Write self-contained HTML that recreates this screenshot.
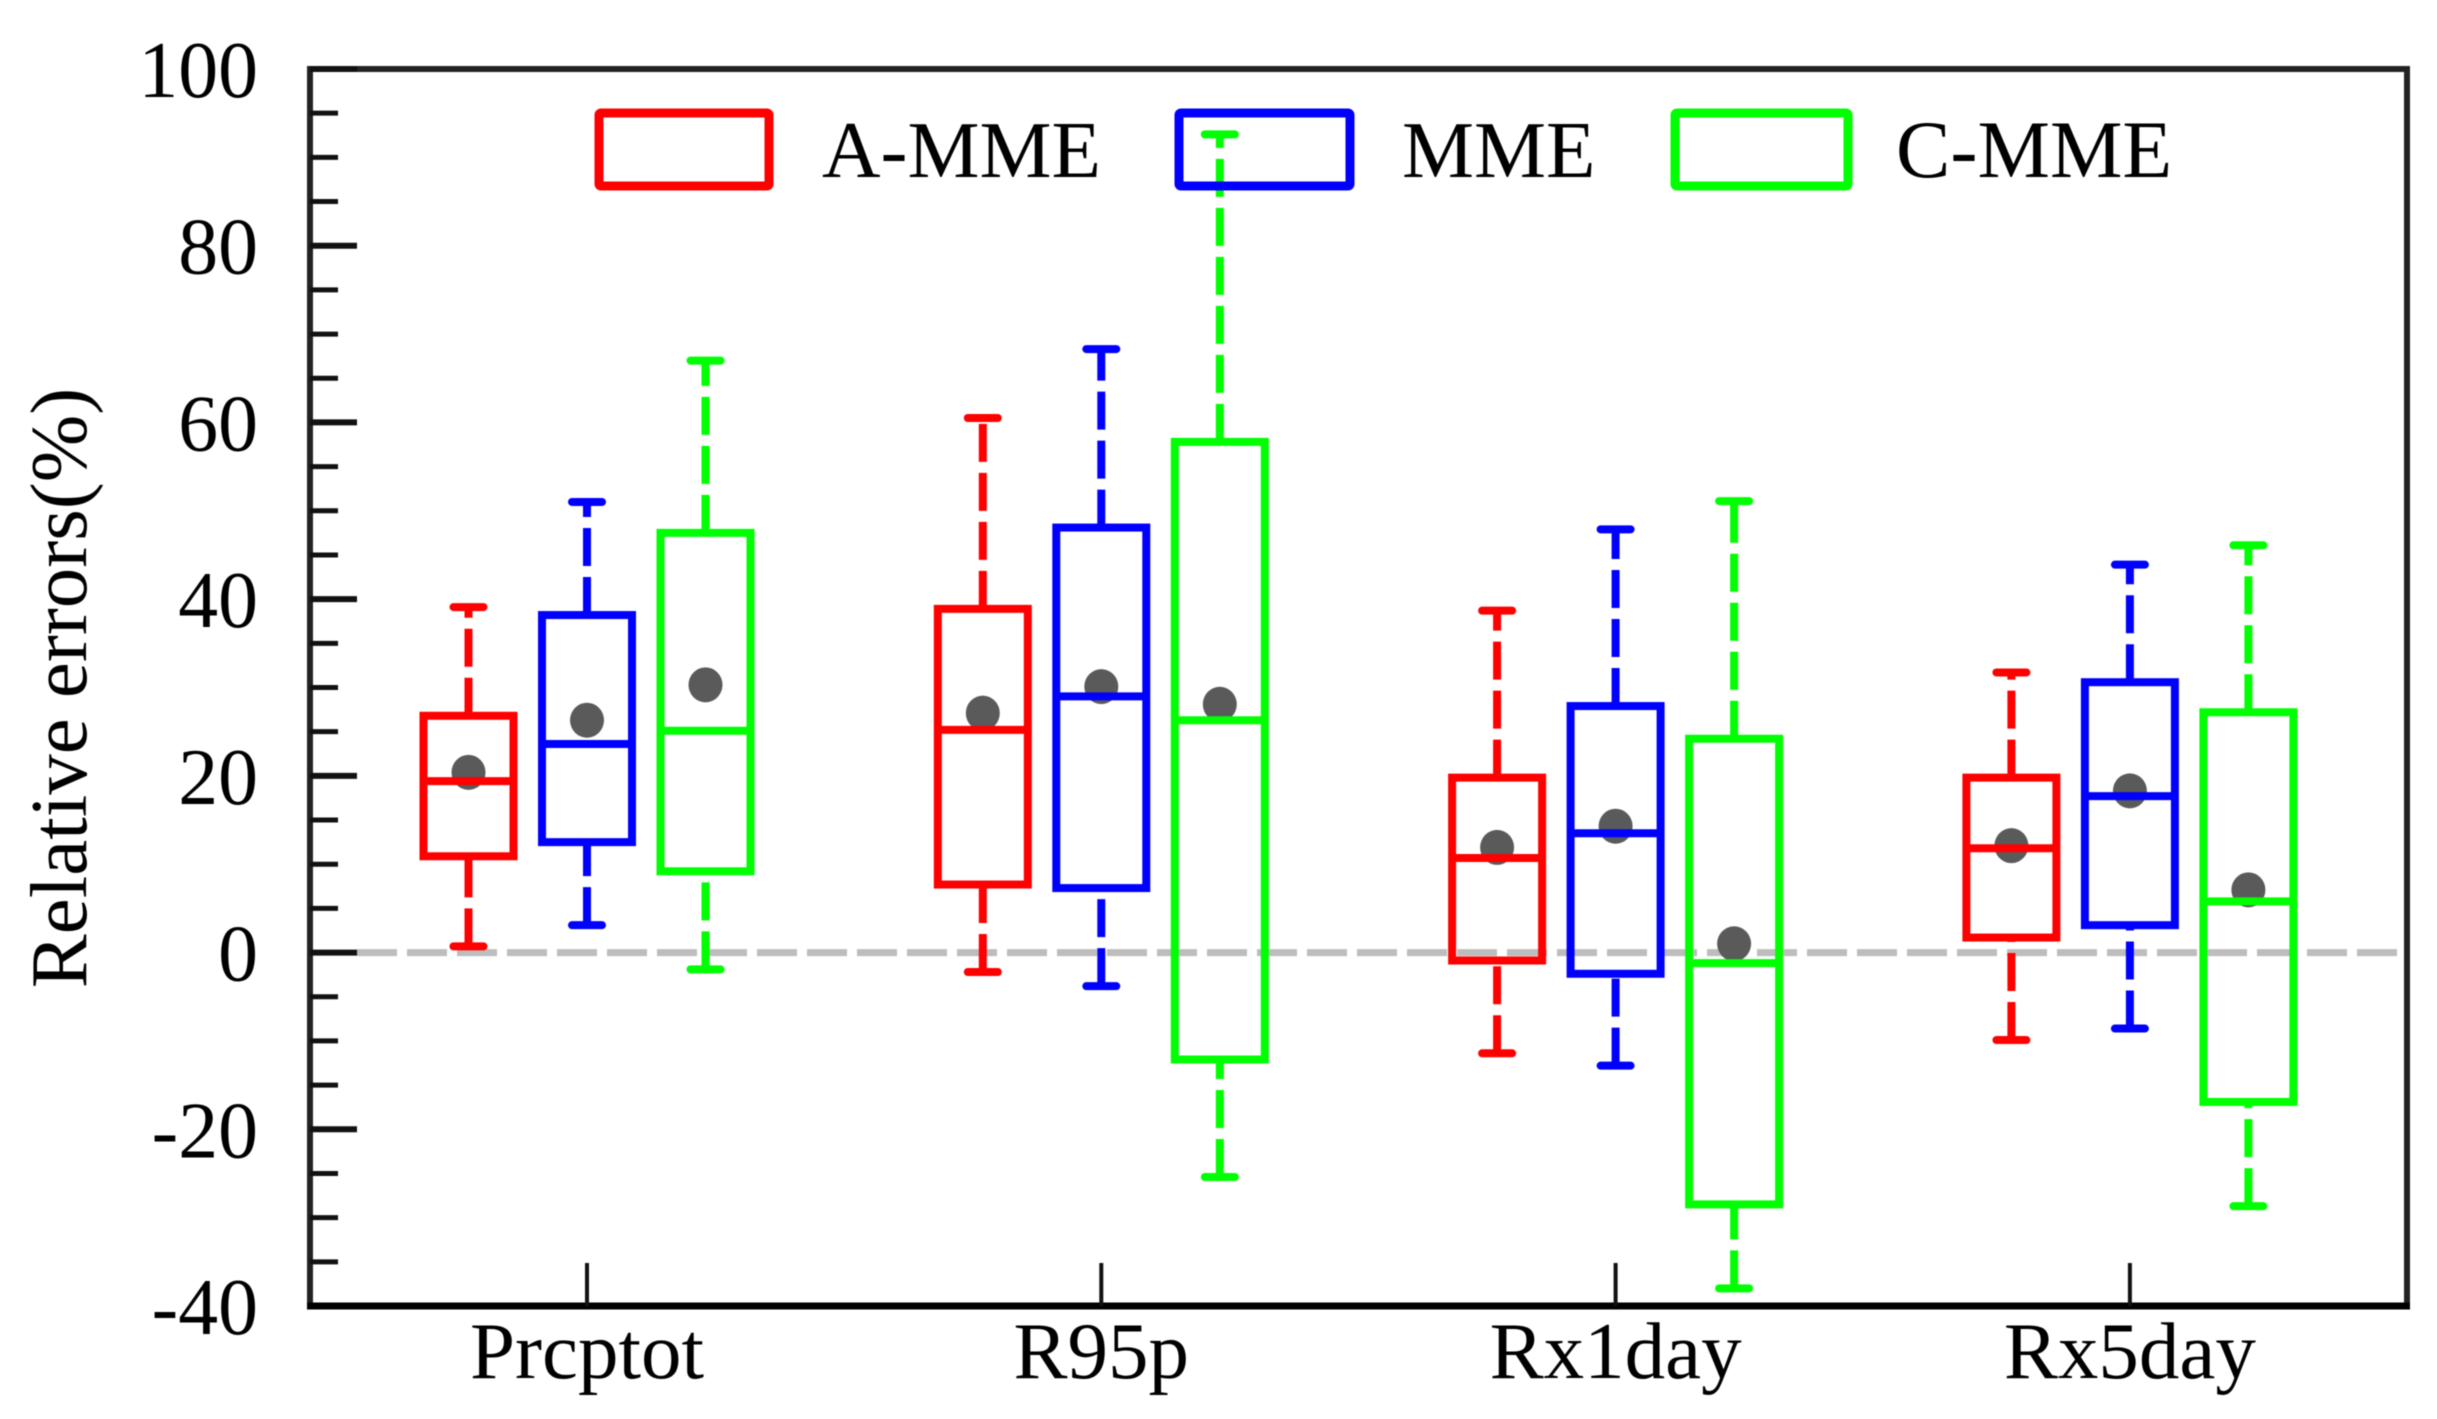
<!DOCTYPE html>
<html>
<head>
<meta charset="utf-8">
<title>Relative errors box plot</title>
<style>
html,body{margin:0;padding:0;background:#fff;}
svg{display:block;filter:blur(0.6px);}
text{font-family:"Liberation Serif",serif;fill:#000;}
</style>
</head>
<body>
<svg id="chart" xmlns="http://www.w3.org/2000/svg" width="2437" height="1419" viewBox="0 0 2437 1419">
  <rect x="0" y="0" width="2437" height="1419" fill="#fff"/>
  <g id="grid-layer"></g>
  <g id="mean-layer"></g>
  <g id="box-layer"></g>
  <g id="axis-layer"></g>
  <text transform="translate(86,688) rotate(-90)" text-anchor="middle" font-size="81">Relative errors(%)</text>
  <g>
    <g>
      <rect x="599" y="113" width="170" height="73" rx="2" fill="none" stroke="#ff0000" stroke-width="9" stroke-linejoin="round"/>
      <text x="822" y="177" font-size="81">A-MME</text>
    </g>
    <g>
      <rect x="1179" y="113" width="171" height="73" rx="2" fill="none" stroke="#0000ff" stroke-width="9" stroke-linejoin="round"/>
      <text x="1402" y="177" font-size="81">MME</text>
    </g>
    <g>
      <rect x="1675" y="113" width="173" height="73" rx="2" fill="none" stroke="#00ff00" stroke-width="9" stroke-linejoin="round"/>
      <text x="1896" y="177" font-size="81.5">C-MME</text>
    </g>
  </g>
</svg>
<script>
var categories = ['Prcptot', 'R95p', 'Rx1day', 'Rx5day'];
var seriesNames = ['A-MME', 'MME', 'C-MME'];
var seriesColors = ['#ff0000', '#0000ff', '#00ff00'];
var yTickLabels = [100, 80, 60, 40, 20, 0, -20, -40];

var aMmeWhiskerHigh = [39.1, 60.5, 38.7, 31.7];
var aMmeQ3 = [26.8, 38.9, 19.8, 19.8];
var aMmeMedian = [19.4, 25.2, 10.7, 11.8];
var aMmeQ1 = [10.9, 7.7, -0.9, 1.7];
var aMmeWhiskerLow = [0.7, -2.2, -11.4, -9.9];
var aMmeMean = [20.4, 27.1, 11.9, 12.1];

var mmeWhiskerHigh = [51.0, 68.3, 47.9, 43.9];
var mmeQ3 = [38.2, 48.1, 27.9, 30.6];
var mmeMedian = [23.6, 29.0, 13.5, 17.7];
var mmeQ1 = [12.5, 7.3, -2.4, 3.1];
var mmeWhiskerLow = [3.1, -3.8, -12.8, -8.6];
var mmeMean = [26.3, 30.1, 14.3, 18.3];

var cMmeWhiskerHigh = [67.0, 92.6, 51.1, 46.1];
var cMmeQ3 = [47.5, 57.8, 24.2, 27.2];
var cMmeMedian = [25.1, 26.3, -1.2, 5.8];
var cMmeQ1 = [9.2, -12.1, -28.5, -16.9];
var cMmeWhiskerLow = [-1.9, -25.4, -38.0, -28.7];
var cMmeMean = [30.3, 28.1, 1.0, 7.1];

var whiskerHighs = [aMmeWhiskerHigh, mmeWhiskerHigh, cMmeWhiskerHigh];
var q3s = [aMmeQ3, mmeQ3, cMmeQ3];
var medians = [aMmeMedian, mmeMedian, cMmeMedian];
var q1s = [aMmeQ1, mmeQ1, cMmeQ1];
var whiskerLows = [aMmeWhiskerLow, mmeWhiskerLow, cMmeWhiskerLow];
var means = [aMmeMean, mmeMean, cMmeMean];

var NS = 'http://www.w3.org/2000/svg';
var plotLeft = 310, plotRight = 2407, plotTop = 69, plotBottom = 1306;
var yMin = -40, yMax = 100;

function yScale(v) {
  return plotBottom - (v - yMin) / (yMax - yMin) * (plotBottom - plotTop);
}
function xScale(i) {
  return 587 + i * 514.3;
}
function seriesOffset(s) {
  return (s - 1) * 118.5;
}
function slug(t) {
  return String(t).toLowerCase().replace(/[^a-z0-9]+/g, '-');
}
function shape(parent, tag, props) {
  var el = document.createElementNS(NS, tag);
  for (var k in props) {
    el.setAttribute(k, props[k]);
  }
  parent.appendChild(el);
  return el;
}

var gridLayer = document.getElementById('grid-layer');
var meanLayer = document.getElementById('mean-layer');
var boxLayer = document.getElementById('box-layer');
var axisLayer = document.getElementById('axis-layer');

var zeroLine = shape(gridLayer, 'line', {x1: 357, x2: 2400, y1: yScale(0), y2: yScale(0), stroke: '#bdbdbd', 'stroke-width': 7, 'stroke-dasharray': '40 10'});



categories.forEach(function (cat, c) {
  seriesNames.forEach(function (name, s) {
    var cx = xScale(c) + seriesOffset(s);
    var color = seriesColors[s];
    var halfBox = 45, halfCap = 15, sw = 8;
    var yHigh = yScale(whiskerHighs[s][c]);
    var yQ3 = yScale(q3s[s][c]);
    var yMed = yScale(medians[s][c]);
    var yQ1 = yScale(q1s[s][c]);
    var yLow = yScale(whiskerLows[s][c]);
    var yMean = yScale(means[s][c]);

    var dot = shape(meanLayer, 'ellipse', {cx: cx, cy: yMean, rx: 17, ry: 17.5, fill: '#5a5a5a'});
    
    

    var g = shape(boxLayer, 'g', {});
    
    

    var upper = shape(g, 'line', {x1: cx, x2: cx, y1: yQ3, y2: yHigh, stroke: color, 'stroke-width': sw, 'stroke-dasharray': '38 11'});
    
    

    var lower = shape(g, 'line', {x1: cx, x2: cx, y1: yLow, y2: yQ1, stroke: color, 'stroke-width': sw, 'stroke-dasharray': '38 11'});
    
    

    var capHigh = shape(g, 'line', {x1: cx - halfCap, x2: cx + halfCap, y1: yHigh, y2: yHigh, stroke: color, 'stroke-width': sw, 'stroke-linecap': 'round'});
    
    

    var capLow = shape(g, 'line', {x1: cx - halfCap, x2: cx + halfCap, y1: yLow, y2: yLow, stroke: color, 'stroke-width': sw, 'stroke-linecap': 'round'});
    
    

    var box = shape(g, 'rect', {x: cx - halfBox, y: yQ3, width: halfBox * 2, height: yQ1 - yQ3, fill: 'none', stroke: color, 'stroke-width': sw});
    
    

    var med = shape(g, 'line', {x1: cx - halfBox, x2: cx + halfBox, y1: yMed, y2: yMed, stroke: color, 'stroke-width': sw});
    
    
  });
});

var frame = shape(axisLayer, 'rect', {x: plotLeft, y: plotTop, width: plotRight - plotLeft, height: plotBottom - plotTop, fill: 'none', stroke: '#222', 'stroke-width': 6});



var bottomAxis = shape(axisLayer, 'line', {x1: plotLeft - 3, x2: plotRight + 3, y1: plotBottom, y2: plotBottom, stroke: '#000', 'stroke-width': 7});



for (var v = yMin + 5; v <= yMax; v += 5) {
  var isMajor = v % 20 === 0;
  var tick = shape(axisLayer, 'line', {x1: plotLeft, x2: plotLeft + (isMajor ? 47 : 28), y1: yScale(v), y2: yScale(v), stroke: '#111', 'stroke-width': isMajor ? 6 : 5});
  
  
}

yTickLabels.forEach(function (label) {
  var t = shape(axisLayer, 'text', {transform: 'translate(258,' + (yScale(label) + 28) + ') scale(0.985,1)', 'text-anchor': 'end', 'font-size': 81});
  t.textContent = String(label);
  
  
});

categories.forEach(function (cat, c) {
  var tick = shape(axisLayer, 'line', {x1: xScale(c), x2: xScale(c), y1: plotBottom - 43, y2: plotBottom, stroke: '#111', 'stroke-width': 4});
  
  
  var t = shape(axisLayer, 'text', {x: xScale(c), y: 1378, 'text-anchor': 'middle', 'font-size': 81});
  t.textContent = cat;
  
  
});
</script>
</body>
</html>
